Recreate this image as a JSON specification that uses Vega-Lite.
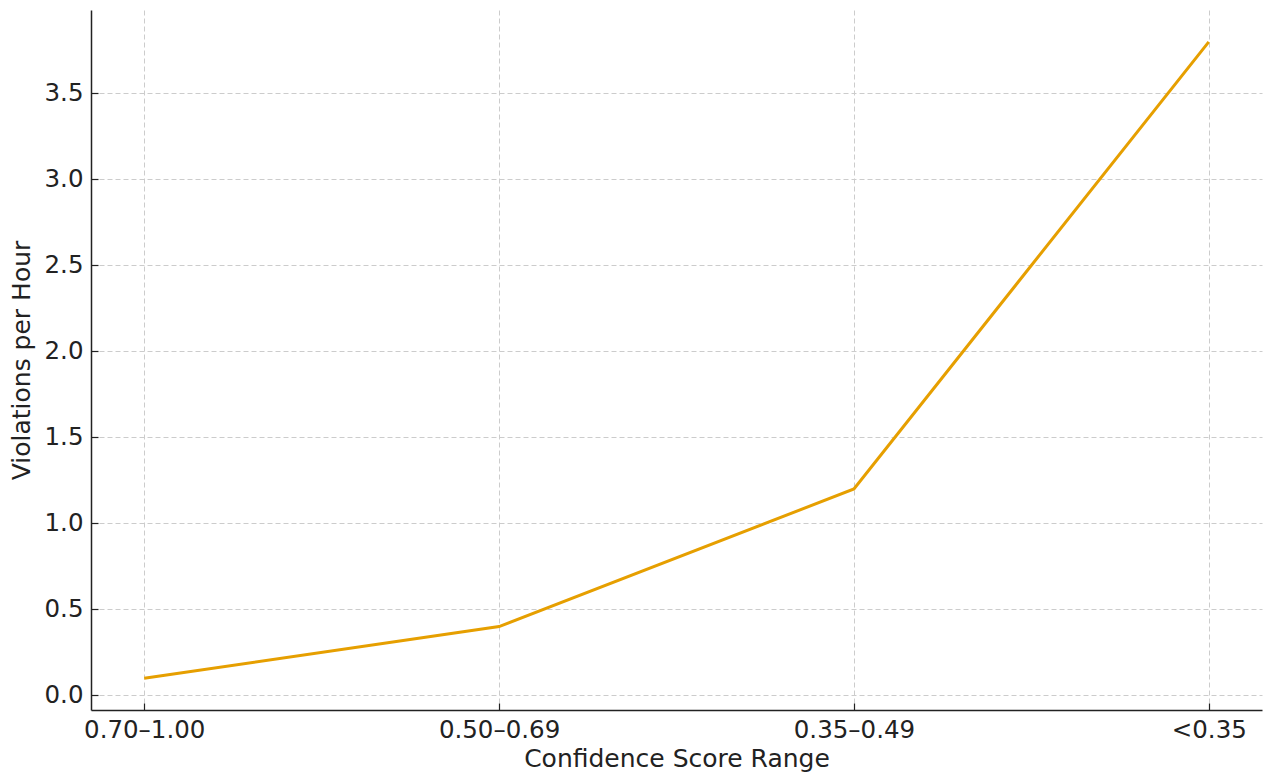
{
  "$schema": "https://vega.github.io/schema/vega-lite/v6.json",
  "width": 1171,
  "height": 700,
  "autosize": {"type": "none"},
  "padding": {"left": 91, "top": 10, "right": 1, "bottom": 65},
  "background": "white",
  "config": {
    "font": "DejaVu Sans",
    "view": {"stroke": null},
    "axis": {
      "labelFont": "DejaVu Sans",
      "titleFont": "DejaVu Sans",
      "labelFontSize": 24.5,
      "titleFontSize": 25,
      "titleFontWeight": "normal",
      "labelColor": "#222222",
      "titleColor": "#222222",
      "domainColor": "#222222",
      "domainWidth": 1.5,
      "tickColor": "#222222",
      "tickWidth": 1.2,
      "tickSize": -7,
      "gridColor": "#cccccc",
      "gridDash": [5, 3],
      "gridWidth": 1
    }
  },
  "data": {
    "values": [
      {"range": "0.70–1.00", "violations": 0.1},
      {"range": "0.50–0.69", "violations": 0.4},
      {"range": "0.35–0.49", "violations": 1.2},
      {"range": "<0.35", "violations": 3.8}
    ]
  },
  "mark": {"type": "line", "color": "#E69F00", "strokeWidth": 3},
  "encoding": {
    "x": {
      "field": "range",
      "type": "ordinal",
      "sort": null,
      "scale": {"type": "point", "padding": 0.15},
      "axis": {"title": "Confidence Score Range", "labelAngle": 0, "labelPadding": 15, "titlePadding": 5, "grid": true}
    },
    "y": {
      "field": "violations",
      "type": "quantitative",
      "scale": {"domain": [-0.085, 3.985], "nice": false, "zero": false},
      "axis": {"title": "Violations per Hour", "values": [0, 0.5, 1, 1.5, 2, 2.5, 3, 3.5], "format": ".1f", "labelPadding": 15, "titlePadding": 10, "grid": true}
    }
  }
}
